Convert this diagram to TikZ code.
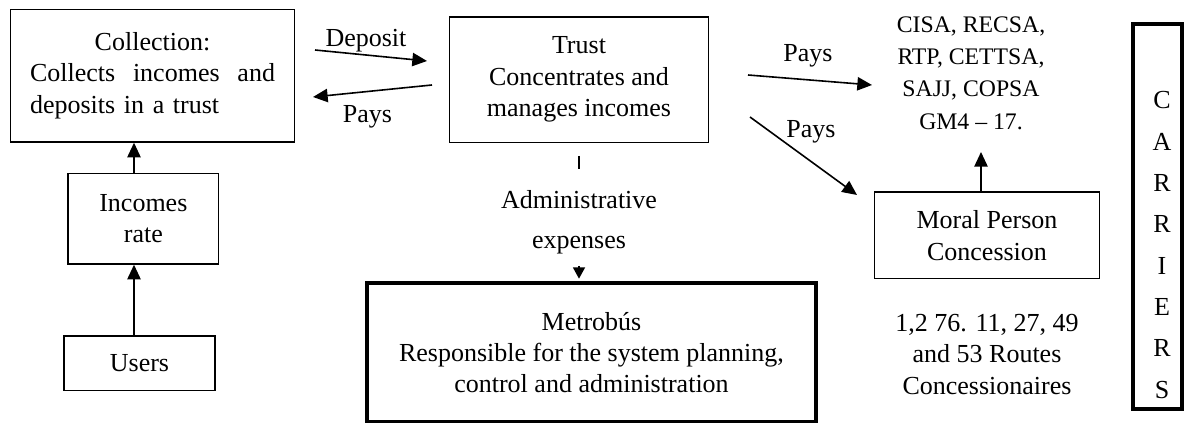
\documentclass[tikz,border=0pt]{standalone}
\usepackage{fontspec}
\setmainfont{Liberation Serif}
\usetikzlibrary{arrows.meta}
\newdimen\px \px=0.75pt
\begin{document}
\begin{tikzpicture}[x=0.75pt,y=-0.75pt,
  every node/.style={font=\fontsize{19.5pt}{23.6pt}\selectfont, inner sep=0pt},
  box/.style={draw, line width=1.1pt, align=center},
  thinbox/.style={draw, line width=0.8pt, align=center},
  heavy/.style={draw, line width=3pt, align=center},
  arr/.style={line width=1.2pt, -{Triangle[length=11pt,width=10pt]}},
  smallarr/.style={line width=1.2pt, -{Triangle[length=8.5pt,width=9pt]}},
  lbl/.style={align=center}]
\useasboundingbox (0,0) rectangle (1184,423);

% boxes
\node[box, minimum width=284\px, minimum height=132.5\px, text width=245\px, align=left] (coll) at (152.5,75.75)
  {\makebox[\linewidth]{Collection:}\\ Collects\hfill incomes\hfill and\\ deposits in a trust};
\node[box, minimum width=259\px, minimum height=125.3\px] (trust) at (579,79.65)
  {Trust\\ Concentrates and\\ manages incomes};
\node[box, minimum width=150.7\px, minimum height=90.5\px] (rate) at (143.35,218.75) {Incomes\\ rate};
\node[box, minimum width=151\px, minimum height=54.5\px] (users) at (139.5,363.25) {Users};
\node[thinbox, minimum width=225.4\px, minimum height=86.8\px] (moral) at (987,235.4) {Moral Person\\ Concession};
\node[heavy, minimum width=449\px, minimum height=138.5\px] (metro) at (591.5,352.6)
  {Metrobús\\ Responsible for the system planning,\\ control and administration};
\node[heavy, minimum width=48.5\px, minimum height=385\px] (carr) at (1157.25,216.5) {};
\node[lbl, font=\fontsize{19.5pt}{31pt}\selectfont] (carr-t) at (1162,245) {C\\ A\\ R\\ R\\ I\\ E\\ R\\ S};

% free text
\node[lbl, font=\fontsize{17.8pt}{24.2pt}\selectfont] (cisa) at (971,73) {CISA, RECSA,\\ RTP, CETTSA,\\ SAJJ, COPSA\\ GM4 -- 17.};
\node[lbl] (routes) at (987,354.5) {1,2 76. 11, 27, 49\\ and 53 Routes\\ Concessionaires};
\node[lbl, font=\fontsize{19.5pt}{30pt}\selectfont] (adm) at (579,222) {Administrative\\ expenses};
\node (dep-l) at (366,41) {Deposit};
\node (pay-l) at (367.5,117) {Pays};
\node (pay-r) at (808,56) {Pays};
\node (pay-d) at (811,132) {Pays};

% connector end points
\coordinate (colx) at (134,0);
\coordinate (mx) at (981,0);
\coordinate (dep-s) at (315,50);
\coordinate (dep-e) at (427,61);
\coordinate (pay-s) at (432,85);
\coordinate (pay-e) at (313,97);
\coordinate (payr-s) at (748,75);
\coordinate (payr-e) at (872,85);
\coordinate (payd-s) at (750,117);
\coordinate (payd-e) at (857,195);
\coordinate (cisa-in) at (981,152);
\coordinate (tick-a) at (579,156);
\coordinate (tick-b) at (579,169);
\coordinate (adm-s) at (579,266);

% connectors
\draw[arr] (users.north -| colx) -- (rate.south -| colx);
\draw[arr] (rate.north -| colx) -- (coll.south -| colx);
\draw[arr] (dep-s) -- (dep-e);
\draw[arr] (pay-s) -- (pay-e);
\draw[arr] (payr-s) -- (payr-e);
\draw[arr] (payd-s) -- (payd-e);
\draw[arr] (moral.north -| mx) -- (cisa-in);
\draw[line width=1pt] (tick-a) -- (tick-b);
\draw[smallarr, shorten >=2pt] (adm-s) -- (metro.north -| adm-s);
\end{tikzpicture}
\end{document}
